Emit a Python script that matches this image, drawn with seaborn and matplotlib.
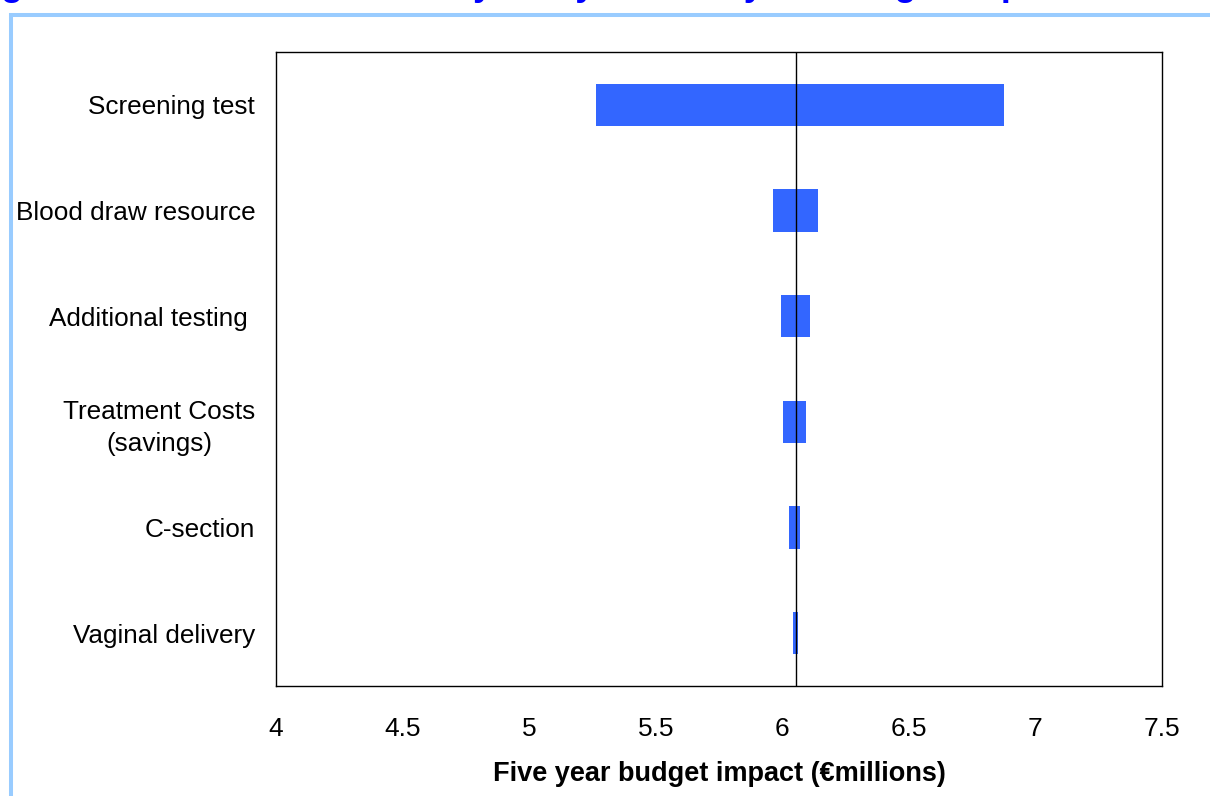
import matplotlib
matplotlib.use("Agg")
import matplotlib.pyplot as plt
import seaborn as sns
import pandas as pd
from matplotlib.lines import Line2D

# ---- data ----
categories = ["Screening test", "Blood draw resource", "Additional testing ",
              "Treatment Costs\n(savings)", "C-section", "Vaginal delivery"]
low_values = [5.265, 5.963, 5.995, 6.003, 6.027, 6.043]
high_values = [6.876, 6.141, 6.110, 6.094, 6.070, 6.062]
base_value = 6.053
x_ticks = [4, 4.5, 5, 5.5, 6, 6.5, 7, 7.5]
x_tick_labels = ["4", "4.5", "5", "5.5", "6", "6.5", "7", "7.5"]
x_label = "Five year budget impact (€millions)"
title = "Figure 4: Univariate sensitivity analysis for 5 year budget impact"

sns.set_theme(style="white")
plt.rcParams['font.family'] = ['Liberation Sans', 'DejaVu Sans']

df = pd.DataFrame({"parameter": categories, "low": low_values, "high": high_values})
df["span"] = df["high"] - df["low"]

W, H = 1210, 796
fig = plt.figure(figsize=(W / 100, H / 100), dpi=100)
ax = fig.add_axes([276 / W, 1 - 686 / H, 886 / W, 634 / H])

sns.barplot(data=df, x="span", y="parameter", orient="h", color="#3366FF",
            saturation=1, width=0.4, errorbar=None, linewidth=0,
            left=df["low"].to_numpy(), ax=ax)

ax.axvline(base_value, color="black", lw=1.0, zorder=3)

ax.set_xlim(4, 7.5)
ax.set_ylim(len(categories) - 0.5, -0.5)
ax.set_xticks(x_ticks)
ax.set_xticklabels(x_tick_labels)
ax.set_ylabel("")
ax.set_xlabel(x_label, fontsize=19.5, fontweight="bold", labelpad=15, color="black")
ax.tick_params(axis="x", length=0, labelsize=19, pad=22, colors="black")
ax.tick_params(axis="y", length=0, labelsize=18.8, pad=15, colors="black")
for t in ax.get_yticklabels():
    t.set_multialignment("center")
    t.set_linespacing(1.4)
for s in ax.spines.values():
    s.set_visible(True)
    s.set_color("black")
    s.set_linewidth(1.0)

# light blue frame of the original document
fig.add_artist(Line2D([9 / W, 1], [1 - 14.8 / H] * 2, color="#99CCFF",
                      lw=2.9, transform=fig.transFigure, solid_capstyle="butt"))
fig.add_artist(Line2D([11.3 / W] * 2, [0, 1 - 13 / H], color="#99CCFF",
                      lw=2.9, transform=fig.transFigure, solid_capstyle="butt"))

# title (cut off at the top in the original)
fig.text(-31 / W, 1 + 5 / H, title, color="#0000FF", fontweight="bold",
         fontsize=26, va="baseline", ha="left")

fig.savefig("out.png", dpi=100)
